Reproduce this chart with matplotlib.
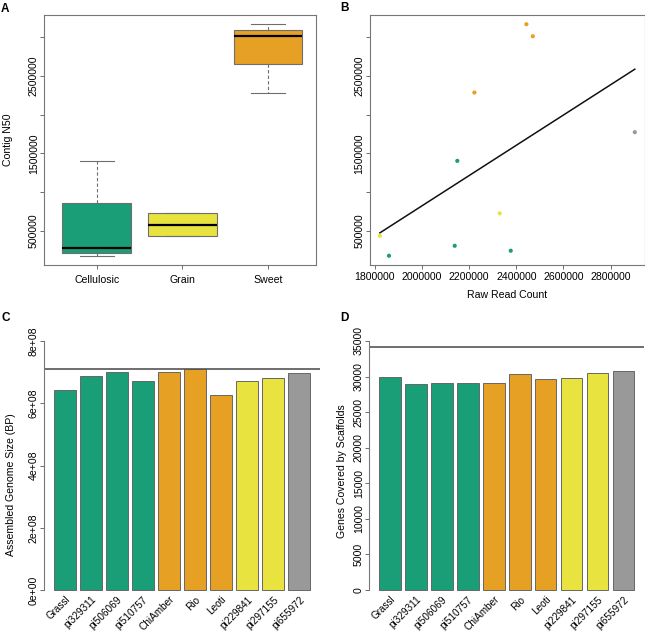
import numpy as np
import matplotlib
matplotlib.use("Agg")
import matplotlib.pyplot as plt

plt.rcParams["font.family"] = ["Liberation Sans", "DejaVu Sans"]

# ---- data -------------------------------------------------------------
groups = ["Cellulosic", "Grain", "Sweet"]
group_colors = {"Cellulosic": "#1A9E77", "Grain": "#E8E33E",
                "Sweet": "#E6A024", "Other": "#999999"}

# panel A/B: per-line raw read count vs contig N50
read_count = [1821000, 1859500, 2138400, 2149500, 2376200,
              2329500, 2222000, 2442700, 2469900, 2902700]
contig_n50 = [435000, 177000, 306000, 1404000, 242000,
              725000, 2288000, 3171000, 3016000, 1775000]
point_group = ["Grain", "Cellulosic", "Cellulosic", "Cellulosic", "Cellulosic",
               "Grain", "Sweet", "Sweet", "Sweet", "Other"]

# panel C/D: per-line assembly stats
lines = ["Grassl", "pi329311", "pi506069", "pi510757", "ChiAmber",
         "Rio", "Leoti", "pi229841", "pi297155", "pi655972"]
line_group = ["Cellulosic"] * 4 + ["Sweet"] * 3 + ["Grain"] * 2 + ["Other"]
genome_size = [6.43e8, 6.88e8, 7.01e8, 6.72e8, 7.00e8,
               7.10e8, 6.27e8, 6.71e8, 6.81e8, 6.98e8]
genes_covered = [29980, 28920, 29100, 29150, 29140,
                 30320, 29620, 29760, 30460, 30740]
ref_genome_size = 7.10e8
ref_gene_count = 34211

a_ticks = [500000, 1000000, 1500000, 2000000, 2500000, 3000000]
a_ticklabels = ["500000", "", "1500000", "", "2500000", ""]
b_xticks = [1800000, 2000000, 2200000, 2400000, 2600000, 2800000]
c_ticks = [0, 2e8, 4e8, 6e8, 8e8]
c_ticklabels = ["0e+00", "2e+08", "4e+08", "6e+08", "8e+08"]
d_ticks = [0, 5000, 10000, 15000, 20000, 25000, 30000, 35000]

FS = 7.6
W, H = 645, 634


def fivenum(v):
    v = np.sort(np.asarray(v, dtype=float))
    n = len(v)
    n4 = np.floor((n + 3) / 2) / 2
    d = np.array([1, n4, (n + 1) / 2, n + 1 - n4, n]) - 1
    return 0.5 * (v[np.floor(d).astype(int)] + v[np.ceil(d).astype(int)])


def rlim(vals):
    lo, hi = min(vals), max(vals)
    pad = 0.04 * (hi - lo)
    return lo - pad, hi + pad


def px_axes(fig, left, top, right, bottom):
    return fig.add_axes([left / W, 1 - bottom / H, (right - left) / W, (bottom - top) / H])


def style_ticks(ax):
    ax.tick_params(axis="both", labelsize=FS, length=3, width=0.6,
                   color="#555555", pad=0.8)


fig = plt.figure(figsize=(W / 100, H / 100), dpi=100)

# ---- A: boxplot -------------------------------------------------------
axA = px_axes(fig, 44, 15, 316, 265)
stats = []
for g in groups:
    vals = [y for y, pg in zip(contig_n50, point_group) if pg == g]
    lo, q1, med, q3, hi = fivenum(vals)
    iqr = q3 - q1
    inside = [v for v in vals if q1 - 1.5 * iqr <= v <= q3 + 1.5 * iqr]
    stats.append(dict(med=med, q1=q1, q3=q3, whislo=min(inside),
                      whishi=max(inside), fliers=[]))
bp = axA.bxp(stats, positions=[1, 2, 3], widths=0.8, capwidths=0.4,
             patch_artist=True, showfliers=False,
             boxprops=dict(edgecolor="#6E6E6E", linewidth=0.8),
             medianprops=dict(color="black", linewidth=1.6),
             whiskerprops=dict(color="#6E6E6E", linestyle=(0, (3, 2)), linewidth=0.8),
             capprops=dict(color="#6E6E6E", linewidth=0.8))
for patch, g in zip(bp["boxes"], groups):
    patch.set_facecolor(group_colors[g])
axA.set_xlim(0.385, 3.56)
axA.set_ylim(*rlim(contig_n50))
axA.set_xticks([1, 2, 3])
axA.set_xticklabels(groups)
axA.set_yticks(a_ticks)
axA.set_yticklabels(a_ticklabels, rotation=90, va="center")
axA.set_ylabel("Contig N50", fontsize=FS)
axA.yaxis.set_label_coords(-0.115, 0.5)
style_ticks(axA)
axA.tick_params(axis="x", pad=4)
for s in axA.spines.values():
    s.set_color("#777777")
    s.set_linewidth(0.8)

# ---- B: scatter with linear fit ---------------------------------------
axB = px_axes(fig, 369.7, 15, 645, 265)
axB.scatter(read_count, contig_n50, s=9,
            c=[group_colors[g] for g in point_group], linewidths=0, zorder=3)
slope, intercept = np.polyfit(read_count, contig_n50, 1)
xfit = np.array([min(read_count), max(read_count)])
axB.plot(xfit, slope * xfit + intercept, color="#111111", linewidth=1.1)
axB.set_xlim(*rlim(read_count))
axB.set_ylim(*rlim(contig_n50))
axB.set_xticks(b_xticks)
axB.set_xticklabels([str(t) for t in b_xticks])
axB.set_yticks(a_ticks)
axB.set_yticklabels(a_ticklabels, rotation=90, va="center")
axB.set_xlabel("Raw Read Count", fontsize=FS)
axB.xaxis.set_label_coords(0.5, -0.1)
style_ticks(axB)
axB.tick_params(axis="x", pad=2)
for s in axB.spines.values():
    s.set_color("#777777")
    s.set_linewidth(0.8)

# ---- C/D: bar charts --------------------------------------------------
xpos = 0.7 + 1.2 * np.arange(len(lines))
bar_colors = [group_colors[g] for g in line_group]


def bar_panel(ax, values, ref, yticks, yticklabels, ylabel, ylabel_x, ylabel_y):
    ax.bar(xpos, values, width=1.0, color=bar_colors,
           edgecolor="#666666", linewidth=0.7)
    ax.axhline(ref, color="#555555", linewidth=1.2)
    ax.set_xlim(-0.272, 12.472)
    ext = 0.04 * (yticks[-1] - yticks[0])
    ax.set_ylim(yticks[0] - ext, yticks[-1] + ext)
    for k in ["top", "right", "bottom"]:
        ax.spines[k].set_visible(False)
    ax.spines["left"].set_bounds(yticks[0], yticks[-1])
    ax.spines["left"].set_color("#777777")
    ax.spines["left"].set_linewidth(0.8)
    ax.set_yticks(yticks)
    ax.set_yticklabels(yticklabels, rotation=90, va="center")
    ax.set_xticks(xpos)
    ax.set_xticklabels(lines, rotation=45, ha="right", rotation_mode="anchor")
    style_ticks(ax)
    ax.tick_params(axis="x", length=0, pad=-4, labelsize=7.2)
    ax.set_ylabel(ylabel, fontsize=FS)
    ax.yaxis.set_label_coords(ylabel_x, ylabel_y)


axC = px_axes(fig, 43.8, 331, 320.3, 600)
bar_panel(axC, genome_size, ref_genome_size, c_ticks, c_ticklabels,
          "Assembled Genome Size (BP)", -0.1, 0.43)

axD = px_axes(fig, 369, 331, 644.5, 600)
bar_panel(axD, genes_covered, ref_gene_count, d_ticks, [str(t) for t in d_ticks],
          "Genes Covered by Scaffolds", -0.08, 0.48)

# ---- panel letters ----------------------------------------------------
for letter, x, y in [("A", 1, 3), ("B", 340, 2), ("C", 1, 312), ("D", 340, 312)]:
    fig.text(x / W, 1 - y / H, letter, fontsize=8.5, fontweight="bold",
             ha="left", va="top")

fig.savefig("out.png", dpi=100)
